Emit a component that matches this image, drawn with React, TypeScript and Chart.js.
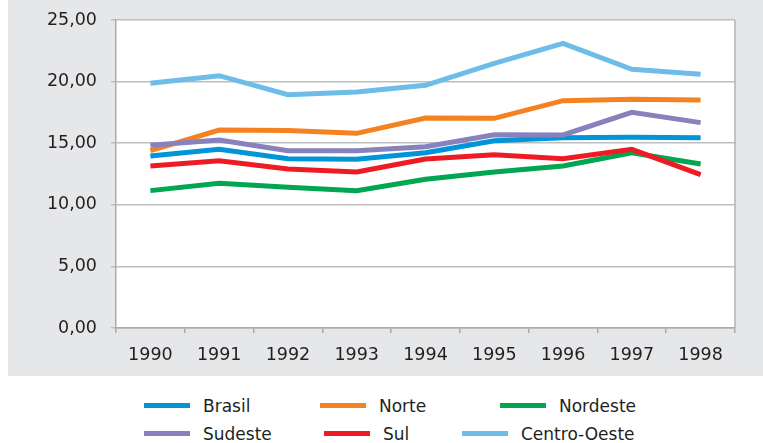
import React, { useEffect, useRef } from 'react';
import { Chart, registerables } from 'chart.js';

Chart.register(...registerables);

// ---- data ----
const years = ['1990', '1991', '1992', '1993', '1994', '1995', '1996', '1997', '1998'];
const brasil = [13.96, 14.5, 13.74, 13.69, 14.23, 15.2, 15.45, 15.48, 15.45];
const norte = [14.39, 16.07, 16.04, 15.8, 17.05, 17.02, 18.45, 18.56, 18.5];
const nordeste = [11.15, 11.74, 11.42, 11.15, 12.07, 12.66, 13.15, 14.23, 13.31];
const sudeste = [14.83, 15.26, 14.39, 14.39, 14.72, 15.69, 15.67, 17.5, 16.67];
const sul = [13.15, 13.58, 12.9, 12.66, 13.72, 14.07, 13.74, 14.5, 12.45];
const centroOeste = [19.86, 20.48, 18.94, 19.16, 19.7, 21.48, 23.1, 21.0, 20.59];
const yTickValues = [0, 5, 10, 15, 20, 25];

const seriesNames = ['Brasil', 'Norte', 'Nordeste', 'Sudeste', 'Sul', 'Centro-Oeste'];
const seriesData = [brasil, norte, nordeste, sudeste, sul, centroOeste];

// ---- styles / layout ----
const seriesColors = ['#0095d9', '#f58220', '#00a651', '#8781bd', '#ed1c24', '#6dbde8'];
const legendLeft = [144, 320, 500, 144, 324, 462];
const legendRowCenter = [405.5, 433.5];
const FONT = "'DejaVu Sans', sans-serif";
const TEXT = '#231f20';
const AREA = { left: 108, top: 20, right: 727, bottom: 328 }; // plot box inside the canvas

const plotBg = {
  id: 'plotBg',
  beforeDraw(chart: any) {
    const { ctx, chartArea: a } = chart;
    ctx.save();
    ctx.fillStyle = '#ffffff';
    ctx.fillRect(a.left, a.top, a.right - a.left, a.bottom - a.top);
    ctx.restore();
  },
  beforeDatasetsDraw(chart: any) {
    const { ctx, chartArea: a } = chart;
    ctx.save();
    ctx.strokeStyle = '#b1b3b6';
    ctx.lineWidth = 1.5;
    ctx.beginPath();
    ctx.moveTo(a.right, a.top);
    ctx.lineTo(a.right, a.bottom);
    ctx.stroke();
    ctx.restore();
  },
};

export default function App() {
  const ref = useRef<HTMLCanvasElement | null>(null);

  useEffect(() => {
    if (!ref.current) return;
    const W = 755;
    const H = 376;
    const chart = new Chart(ref.current, {
      type: 'line',
      data: {
        labels: years,
        datasets: seriesNames.map((name, i) => ({
          label: name,
          data: seriesData[i],
          borderColor: seriesColors[i],
          backgroundColor: seriesColors[i],
          borderWidth: 5,
          pointRadius: 0,
          tension: 0,
          fill: false,
          borderJoinStyle: 'miter' as const,
          borderCapStyle: 'butt' as const,
          order: -i,
        })),
      },
      options: {
        animation: false,
        responsive: false,
        maintainAspectRatio: false,
        layout: { padding: { left: 0, top: AREA.top, right: W - AREA.right, bottom: 0 } },
        plugins: { legend: { display: false }, tooltip: { enabled: false } },
        scales: {
          x: {
            type: 'category',
            offset: true,
            grid: {
              offset: true,
              drawOnChartArea: false,
              drawTicks: true,
              tickLength: 5,
              color: '#a7a9ac',
              lineWidth: 1.5,
            },
            border: { display: true, color: '#a7a9ac', width: 1.5 },
            ticks: {
              padding: 12,
              color: TEXT,
              font: { family: FONT, size: 17.5 },
              maxRotation: 0,
              autoSkip: false,
            },
            afterFit: (s: any) => {
              s.height = H - AREA.bottom;
            },
          },
          y: {
            min: 0,
            max: 25,
            afterBuildTicks: (s: any) => {
              s.ticks = yTickValues.map((v) => ({ value: v }));
            },
            grid: { color: '#bcbec0', lineWidth: 1.5, tickLength: 5, drawTicks: true },
            border: { display: true, color: '#a7a9ac', width: 1.5 },
            ticks: {
              padding: 14,
              color: TEXT,
              font: { family: FONT, size: 17.5 },
              callback: (v: any) => Number(v).toFixed(2).replace('.', ','),
            },
            afterFit: (s: any) => {
              s.width = AREA.left;
              s.paddingTop = 0;
              s.paddingBottom = 0;
            },
          },
        },
      },
      plugins: [plotBg],
    });
    return () => chart.destroy();
  }, []);

  return (
    <div style={{ position: 'absolute', left: 0, top: 0, width: 763, height: 443, background: '#ffffff' }}>
      <div style={{ position: 'absolute', left: 8, top: 0, width: 755, height: 376, background: '#e6e7e8' }}>
        <canvas ref={ref} width={755} height={376} style={{ width: 755, height: 376, display: 'block' }} />
      </div>
      {seriesNames.map((name, i) => (
        <div
          key={name}
          style={{
            position: 'absolute',
            left: legendLeft[i],
            top: legendRowCenter[Math.floor(i / 3)] - 12,
            height: 24,
            display: 'flex',
            alignItems: 'center',
            fontFamily: FONT,
            fontSize: 17,
            lineHeight: '24px',
            color: TEXT,
            whiteSpace: 'nowrap',
          }}
        >
          <span style={{ display: 'inline-block', width: 46, height: 5, background: seriesColors[i] }} />
          <span style={{ marginLeft: 13 }}>{name}</span>
        </div>
      ))}
    </div>
  );
}
